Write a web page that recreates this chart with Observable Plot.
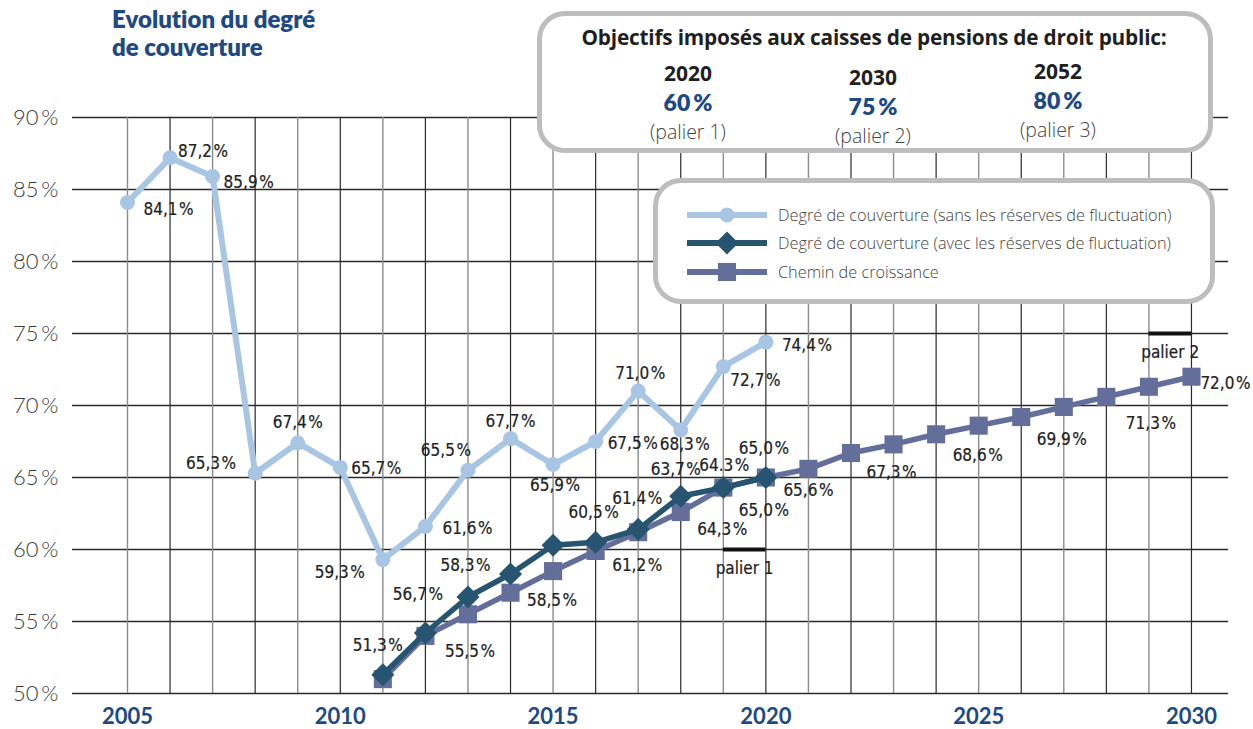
<!DOCTYPE html>
<html>
<head>
<meta charset="utf-8">
<script src="https://cdn.jsdelivr.net/npm/d3@7"></script>
<script src="https://cdn.jsdelivr.net/npm/@observablehq/plot@0.6"></script>
<style>
  html, body { margin: 0; padding: 0; background: #fff; }
  #wrap { position: relative; width: 1253px; height: 729px; overflow: hidden; font-family: "Open Sans", sans-serif; }
  #chart { position: absolute; left: 0; top: 0; }
  #chart g[aria-label="text"] { font-stretch: condensed; }
  .abs { position: absolute; white-space: nowrap; }
  .c { transform: translate(-50%, -50%); }
  .box { position: absolute; box-sizing: border-box; border: 5px solid #bdbdbd; border-radius: 28px; background: #fff; }
  .title { left: 112px; top: 5px; font-family: Lato, sans-serif; font-weight: 800; font-size: 24px; line-height: 28px; color: #1d4a84; font-variant-ligatures: none; }
  .objhead { font-family: "Open Sans", sans-serif; font-weight: 700; font-size: 20.8px; color: #1f1f1f; letter-spacing: -0.2px; }
  .yr { font-family: "Open Sans", sans-serif; font-weight: 700; font-size: 21px; color: #1f1f1f; }
  .pct { font-family: Lato, sans-serif; font-weight: 800; font-size: 23px; color: #1d4a84; }
  .pal { font-family: "Open Sans", sans-serif; font-weight: 300; font-size: 19.5px; color: #444; }
  .leg { font-family: "Open Sans", sans-serif; font-weight: 300; font-size: 16.3px; color: #444; transform: translateY(-50%); }
</style>
</head>
<body>
<div id="wrap">
  <div id="chart"></div>
</div>
<script>
// ---------- data ----------
const sansYears  = [2005, 2006, 2007, 2008, 2009, 2010, 2011, 2012, 2013, 2014, 2015, 2016, 2017, 2018, 2019, 2020];
const sansValues = [84.1, 87.2, 85.9, 65.3, 67.4, 65.7, 59.3, 61.6, 65.5, 67.7, 65.9, 67.5, 71.0, 68.3, 72.7, 74.4];

const avecYears  = [2011, 2012, 2013, 2014, 2015, 2016, 2017, 2018, 2019, 2020];
const avecValues = [51.3, 54.2, 56.7, 58.3, 60.3, 60.5, 61.4, 63.7, 64.3, 65.0];

const cheminYears  = [2011, 2012, 2013, 2014, 2015, 2016, 2017, 2018, 2019, 2020, 2021, 2022, 2023, 2024, 2025, 2026, 2027, 2028, 2029, 2030];
const cheminValues = [51.0, 54.0, 55.5, 57.0, 58.5, 59.9, 61.2, 62.6, 64.3, 65.0, 65.6, 66.7, 67.3, 68.0, 68.6, 69.2, 69.9, 70.6, 71.3, 72.0];

const seriesNames = [
  "Degré de couverture (sans les réserves de fluctuation)",
  "Degré de couverture (avec les réserves de fluctuation)",
  "Chemin de croissance"
];
const seriesColors = ["#a8c6e4", "#275571", "#646e9b"];

const yTicks = [50, 55, 60, 65, 70, 75, 80, 85, 90];
const xTicks = [2005, 2010, 2015, 2020, 2025, 2030];

const paliers = [
  {label: "palier 1", from: 2019, to: 2020, level: 60},
  {label: "palier 2", from: 2029, to: 2030, level: 75}
];

const objYears  = ["2020", "2030", "2052"];
const objValues = ["60\u2009%", "75\u2009%", "80\u2009%"];
const objLabels = ["(palier 1)", "(palier 2)", "(palier 3)"];
const objTitle  = "Objectifs imposés aux caisses de pensions de droit public:";
const chartTitle = ["Evolution du degré", "de couverture"];

// ---------- label placement (offsets in px, anchor) ----------
const sansLabelPos = {
  2005: [16, 7, "start"], 2006: [8, -6, "start"], 2007: [11, 6, "start"], 2008: [-19, -10, "end"],
  2009: [0, -20, "middle"], 2010: [11, 1, "start"], 2011: [-18, 13, "end"], 2012: [17, 2, "start"],
  2013: [3, -20, "end"], 2014: [0, -17, "middle"], 2015: [2, 21, "middle"], 2016: [12, 2, "start"],
  2017: [2, -18, "middle"], 2018: [4, 15, "middle"], 2019: [7, 14, "start"], 2020: [16, 3, "start"]
};
const avecLabelPos = {
  2011: [-5, -29, "middle"], 2013: [-25, -2, "end"], 2014: [-20, -8, "end"], 2016: [-2, -30, "middle"],
  2017: [-1, -31, "middle"], 2018: [-5, -27, "middle"], 2019: [1, -22, "middle"], 2020: [-2, -29, "middle"]
};
const cheminLabelPos = {
  2013: [2, 37, "middle"], 2015: [-1, 29, "middle"], 2017: [-1, 33, "middle"], 2019: [-1, 42, "middle"],
  2020: [-2, 33, "middle"], 2021: [0, 22, "middle"], 2023: [-2, 28, "middle"], 2025: [-1, 30, "middle"],
  2027: [-2, 33, "middle"], 2029: [2, 37, "middle"], 2030: [-10, 7, "end"]
};
const textOverride = {avec: {2019: "64.3\u200A%"}};

// ---------- build ----------
const fmt = v => v.toFixed(1).replace(".", ",") + "\u200A%";
const toRows = (years, values) => years.map((year, i) => ({year, value: values[i]}));
const sans = toRows(sansYears, sansValues);
const avec = toRows(avecYears, avecValues);
const chemin = toRows(cheminYears, cheminValues);

const labelFont = "'Liberation Sans Narrow', 'DejaVu Sans', sans-serif";
const labelSize = 17;
const labelStyle = {fontFamily: labelFont, fontSize: labelSize, fill: "#222", stroke: "#222", strokeWidth: 0.2};

function labelMarks(rows, pos, key) {
  return rows.filter(d => pos[d.year]).map(d => {
    let [dx, dy, anchor] = pos[d.year];
    // right-most label: anchor at the frame's right edge so it stays inside the picture
    if (anchor === "end" && key === "chemin") { dx = 1253 - 3; }
    const txt = (textOverride[key] && textOverride[key][d.year]) || fmt(d.value);
    if (anchor === "end" && key === "chemin") {
      return Plot.text([d], {frameAnchor: "right", y: "value", text: () => txt, dx: 22, dy, textAnchor: "end", ...labelStyle});
    }
    return Plot.text([d], {x: "year", y: "value", text: () => txt, dx, dy, textAnchor: anchor, ...labelStyle});
  });
}

const gridYears = d3.range(2005, 2031);

const plot = Plot.plot({
  width: 1253,
  height: 729,
  marginLeft: 72,
  marginRight: 25,
  marginTop: 117,
  marginBottom: 36,
  x: {domain: [2003.708, 2030.87]},
  y: {domain: [50, 90]},
  style: {background: "transparent", overflow: "visible"},
  marks: [
    Plot.ruleY(yTicks, {stroke: "#2a2a2a", strokeWidth: 1.3}),
    Plot.ruleX(gridYears.filter(y => y % 2 === 1), {y1: 50, y2: 90, stroke: "#8c8c8c", strokeWidth: 1.4}),
    Plot.ruleX(gridYears.filter(y => y % 2 === 0), {y1: 50, y2: 90, stroke: "#2a2a2a", strokeWidth: 1.2}),
    Plot.axisY({ticks: yTicks, tickSize: 0, tickPadding: 14, tickFormat: d => d + "\u2009%",
      fontSize: 22, fontFamily: "Lato, sans-serif", fontWeight: 300, fill: "#3c3c3c", label: null}),
    Plot.axisX({ticks: xTicks, tickSize: 0, tickPadding: 15, tickFormat: d => String(d),
      fontSize: 22, fontFamily: "Lato, sans-serif", fontWeight: 700, fill: "#1d4a84", label: null}),

    // palier markers
    Plot.ruleY(paliers, {y: "level", x1: "from", x2: "to", stroke: "#111", strokeWidth: 4}),
    Plot.text(paliers, {x: d => (d.from + d.to) / 2, y: "level", text: "label", dy: 19, ...labelStyle}),

    // chemin de croissance
    Plot.line(chemin, {x: "year", y: "value", stroke: seriesColors[2], strokeWidth: 5.5}),
    Plot.dot(chemin, {x: "year", y: "value", symbol: "square", r: 10.2, fill: seriesColors[2], stroke: "none"}),
    // avec réserves
    Plot.line(avec, {x: "year", y: "value", stroke: seriesColors[1], strokeWidth: 5.5}),
    Plot.dot(avec, {x: "year", y: "value", symbol: "diamond2", r: 10.4, fill: seriesColors[1], stroke: "none"}),
    // sans réserves
    Plot.line(sans, {x: "year", y: "value", stroke: seriesColors[0], strokeWidth: 6}),
    Plot.dot(sans, {x: "year", y: "value", r: 7.5, fill: seriesColors[0], stroke: "none"}),

    ...labelMarks(sans, sansLabelPos, "sans"),
    ...labelMarks(avec, avecLabelPos, "avec"),
    ...labelMarks(chemin, cheminLabelPos, "chemin")
  ]
});
document.getElementById("chart").appendChild(plot);

// ---------- overlays: title, objectives box, legend ----------
const wrap = document.getElementById("wrap");
function el(cls, html, style) {
  const d = document.createElement("div");
  d.className = cls;
  d.innerHTML = html;
  Object.assign(d.style, style);
  wrap.appendChild(d);
  return d;
}
el("abs title", chartTitle.join("<br>"), {});

el("box", "", {left: "537px", top: "11px", width: "676px", height: "142px"});
el("abs c objhead", objTitle, {left: "874px", top: "37px"});
const colX = [688, 873, 1058];
const colDy = [0, 4, -2];
objYears.forEach((y, i) => {
  el("abs c yr", y, {left: colX[i] + "px", top: (73 + colDy[i]) + "px"});
  el("abs c pct", objValues[i], {left: colX[i] + "px", top: (102 + colDy[i]) + "px"});
  el("abs c pal", objLabels[i], {left: colX[i] + "px", top: (131 + colDy[i]) + "px"});
});

el("box", "", {left: "653px", top: "178px", width: "562px", height: "126px"});
const legY = [215, 243, 272];
const symbols = ["circle", "diamond", "square"];
seriesNames.forEach((name, i) => {
  const ns = "http://www.w3.org/2000/svg";
  const svg = document.createElementNS(ns, "svg");
  svg.setAttribute("width", 84); svg.setAttribute("height", 30);
  svg.style.position = "absolute";
  svg.style.left = "685px"; svg.style.top = (legY[i] - 15) + "px";
  const line = document.createElementNS(ns, "line");
  line.setAttribute("x1", 2); line.setAttribute("x2", 82); line.setAttribute("y1", 15); line.setAttribute("y2", 15);
  line.setAttribute("stroke", seriesColors[i]); line.setAttribute("stroke-width", 6);
  svg.appendChild(line);
  const p = document.createElementNS(ns, "path");
  const sym = symbols[i] === "circle" ? d3.symbol(d3.symbolCircle, Math.PI * 7.5 * 7.5)
            : symbols[i] === "diamond" ? d3.symbol(d3.symbolDiamond2, Math.PI * 10.4 * 10.4)
            : d3.symbol(d3.symbolSquare, Math.PI * 10.2 * 10.2);
  p.setAttribute("d", sym());
  p.setAttribute("transform", "translate(42,15)");
  p.setAttribute("fill", seriesColors[i]);
  svg.appendChild(p);
  wrap.appendChild(svg);
  el("abs leg", name, {left: "778px", top: legY[i] + "px"});
});
</script>
</body>
</html>
